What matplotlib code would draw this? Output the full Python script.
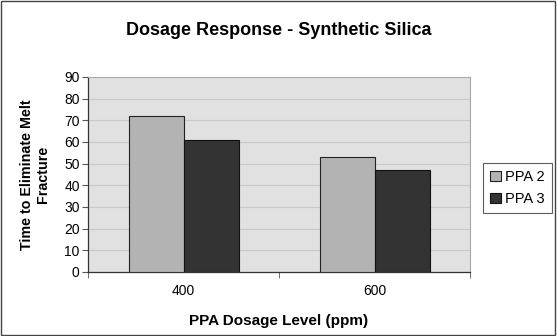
import matplotlib.pyplot as plt
import numpy as np

plt.rcParams['font.family'] = ['Liberation Sans', 'DejaVu Sans']

categories = ['400', '600']
ppa2 = [72, 53]
ppa3 = [61, 47]

fig = plt.figure(figsize=(5.57, 3.36), dpi=100)
fig.patch.set_facecolor('white')
# outer frame
fig.add_artist(plt.Rectangle((0.002, 0.003), 0.995, 0.994, transform=fig.transFigure,
                             fill=False, edgecolor='#444444', linewidth=1.0))

ax = fig.add_axes([0.158, 0.1905, 0.686, 0.5805])
ax.set_facecolor('#e1e1e1')

x = np.arange(len(categories))
w = 0.288
ax.bar(x - w / 2, ppa2, w, color='#b3b3b3', edgecolor='#222222', linewidth=0.8, label='PPA 2', zorder=3)
ax.bar(x + w / 2, ppa3, w, color='#333333', edgecolor='#111111', linewidth=0.8, label='PPA 3', zorder=3)

ax.set_xlim(-0.5, 1.5)
ax.set_ylim(0, 90)
ax.set_yticks(range(0, 91, 10))
ax.yaxis.grid(True, color='#c8c8c8', linewidth=0.8, zorder=0)
ax.set_xticks(x)
ax.set_xticklabels(categories, fontsize=10)
ax.tick_params(axis='x', length=0, pad=9)
ax.set_xticks([-0.5, 0.5, 1.5], minor=True)
ax.tick_params(axis='x', which='minor', length=4, direction='out', color='#555555')
ax.tick_params(axis='y', labelsize=10, length=4, color='#555555', pad=2)

for s in ['top', 'right']:
    ax.spines[s].set_color('#aaaaaa')
    ax.spines[s].set_linewidth(0.8)
for s in ['left', 'bottom']:
    ax.spines[s].set_color('#333333')
    ax.spines[s].set_linewidth(0.9)

ax.set_xlabel('PPA Dosage Level (ppm)', fontsize=11, fontweight='bold', labelpad=11)
ax.set_ylabel('Time to Eliminate Melt\nFracture', fontsize=10.3, fontweight='bold', labelpad=10)
fig.suptitle('Dosage Response - Synthetic Silica', fontsize=13, fontweight='bold', y=0.935)

leg = ax.legend(loc='center left', bbox_to_anchor=(1.034, 0.43), fontsize=10.5,
                frameon=True, fancybox=False, edgecolor='#333333', handlelength=0.7,
                handleheight=0.7, handletextpad=0.3, borderpad=0.5, labelspacing=0.55,
                borderaxespad=0)
leg.get_frame().set_linewidth(0.8)

plt.savefig('out.png', dpi=100)
plt.close()
